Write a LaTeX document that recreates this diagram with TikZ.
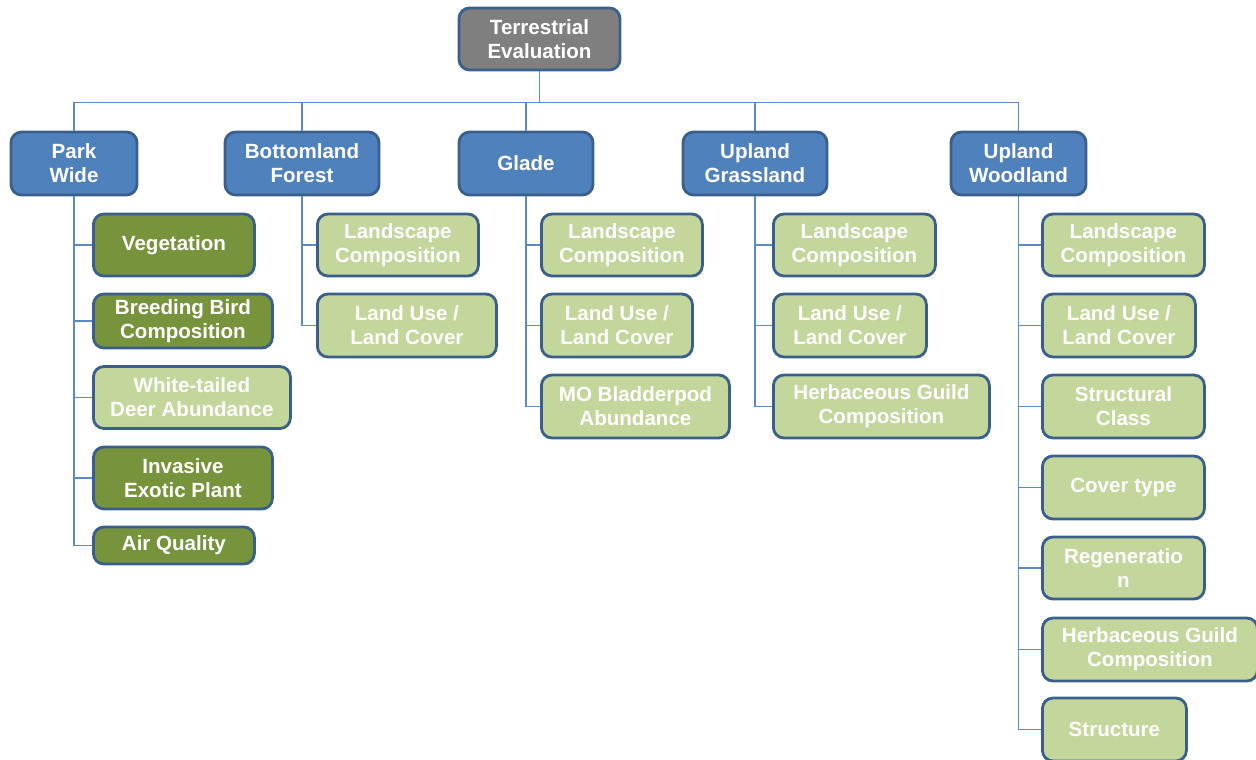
\documentclass[tikz,border=0pt]{standalone}
\usepackage{fontspec}
\setmainfont{Liberation Sans}
\usetikzlibrary{positioning}
\definecolor{tevInk}{HTML}{FFFFFF}
\definecolor{tevEdge}{HTML}{3A5F8B}
\definecolor{tevWire}{HTML}{5B8AC6}
\definecolor{tevGray}{HTML}{7F7F7F}
\definecolor{tevBlue}{HTML}{4F81BD}
\definecolor{tevDark}{HTML}{77933C}
\definecolor{tevLight}{HTML}{C3D69B}
\tikzset{
  every node/.style={font=\fontsize{11.7}{13.7}\selectfont\bfseries, text=tevInk},
  rootCard/.style={rectangle, rounded corners=6pt, draw=tevEdge,
    fill=tevGray, line width=1.6pt, minimum width=3.22cm,
    minimum height=1.24cm, align=center, inner sep=0pt},
  habitatCard/.style={rectangle, rounded corners=6pt, draw=tevEdge,
    fill=tevBlue, line width=1.6pt, minimum height=1.26cm,
    align=center, inner sep=0pt},
  metricCard/.style={rectangle, rounded corners=6pt, draw=tevEdge,
    fill=tevLight, line width=1.6pt, minimum height=1.24cm,
    align=center, inner sep=0pt, anchor=west},
  parkCard/.style={metricCard, fill=tevDark},
  wire/.style={draw=tevWire, line width=0.7pt},
}

\begin{document}
\begin{tikzpicture}[x=1cm,y=1cm]
  \useasboundingbox (0,0) rectangle (25.12,-15.18);

  % Top of the tree.
  \node[rootCard] (root) at (10.79,-0.78) {Terrestrial\\Evaluation};

  % Habitat level.
  \node[habitatCard, minimum width=2.52cm] (park) at (1.48,-3.27) {Park\\Wide};
  \node[habitatCard, minimum width=3.08cm] (bottom) at (6.04,-3.27) {Bottomland\\Forest};
  \node[habitatCard, minimum width=2.68cm] (glade) at (10.52,-3.27) {Glade};
  \node[habitatCard, minimum width=2.88cm] (grass) at (15.10,-3.27) {Upland\\Grassland};
  \node[habitatCard, minimum width=2.70cm] (wood) at (20.37,-3.27) {Upland\\Woodland};

  \foreach \h in {park,bottom,glade,grass,wood} {
    \draw[wire] (root.south) -- ++(0,-0.62) -| (\h.north);
  }

  % Park wide metrics.
  \node[parkCard, minimum width=3.22cm] (veg) at (1.84,-4.90) {Vegetation};
  \node[parkCard, minimum width=3.58cm, minimum height=1.08cm] (bird)
    at (1.84,-6.42) {Breeding Bird\\Composition};
  \node[metricCard, minimum width=3.94cm] (deer) at (1.84,-7.95)
    {White-tailed\\Deer Abundance};
  \node[parkCard, minimum width=3.58cm] (exotic) at (1.84,-9.56)
    {Invasive\\Exotic Plant};
  \node[parkCard, minimum width=3.22cm, minimum height=0.74cm] (air)
    at (1.84,-10.91) {Air Quality};
  \foreach \m in {veg,bird,deer,exotic,air} {
    \draw[wire] (park.south) |- (\m.west);
  }

  % Bottomland forest metrics.
  \node[metricCard, minimum width=3.22cm] (bfLand) at (6.32,-4.90)
    {Landscape\\Composition};
  \node[metricCard, minimum width=3.58cm, minimum height=1.26cm] (bfUse)
    at (6.32,-6.51) {Land Use /\\Land Cover};
  \foreach \m in {bfLand,bfUse} {
    \draw[wire] (bottom.south) |- (\m.west);
  }

  % Glade metrics.
  \node[metricCard, minimum width=3.22cm] (glLand) at (10.80,-4.90)
    {Landscape\\Composition};
  \node[metricCard, minimum width=3.02cm, minimum height=1.26cm] (glUse)
    at (10.80,-6.51) {Land Use /\\Land Cover};
  \node[metricCard, minimum width=3.76cm, minimum height=1.26cm] (glPod)
    at (10.80,-8.13) {MO Bladderpod\\Abundance};
  \foreach \m in {glLand,glUse,glPod} {
    \draw[wire] (glade.south) |- (\m.west);
  }

  % Upland grassland metrics.
  \node[metricCard, minimum width=3.24cm] (ugLand) at (15.44,-4.90)
    {Landscape\\Composition};
  \node[metricCard, minimum width=3.06cm, minimum height=1.26cm] (ugUse)
    at (15.44,-6.51) {Land Use /\\Land Cover};
  \node[metricCard, minimum width=4.32cm, minimum height=1.26cm] (ugHerb)
    at (15.44,-8.13) {Herbaceous Guild\\Composition};
  \foreach \m in {ugLand,ugUse,ugHerb} {
    \draw[wire] (grass.south) |- (\m.west);
  }

  % Upland woodland metrics.
  \node[metricCard, minimum width=3.24cm] (uwLand) at (20.82,-4.90)
    {Landscape\\Composition};
  \node[metricCard, minimum width=3.06cm, minimum height=1.26cm] (uwUse)
    at (20.82,-6.51) {Land Use /\\Land Cover};
  \node[metricCard, minimum width=3.24cm, minimum height=1.26cm] (uwClass)
    at (20.82,-8.13) {Structural\\Class};
  \node[metricCard, minimum width=3.24cm, minimum height=1.26cm] (uwCover)
    at (20.82,-9.75) {Cover type};
  \node[metricCard, minimum width=3.24cm] (uwRegen) at (20.82,-11.36)
    {Regeneratio\\n};
  \node[metricCard, minimum width=4.30cm, minimum height=1.26cm] (uwHerb)
    at (20.82,-12.99) {Herbaceous Guild\\Composition};
  \node[metricCard, minimum width=2.88cm, minimum height=1.26cm] (uwStruct)
    at (20.82,-14.59) {Structure};
  \foreach \m in {uwLand,uwUse,uwClass,uwCover,uwRegen,uwHerb,uwStruct} {
    \draw[wire] (wood.south) |- (\m.west);
  }
\end{tikzpicture}
\end{document}
